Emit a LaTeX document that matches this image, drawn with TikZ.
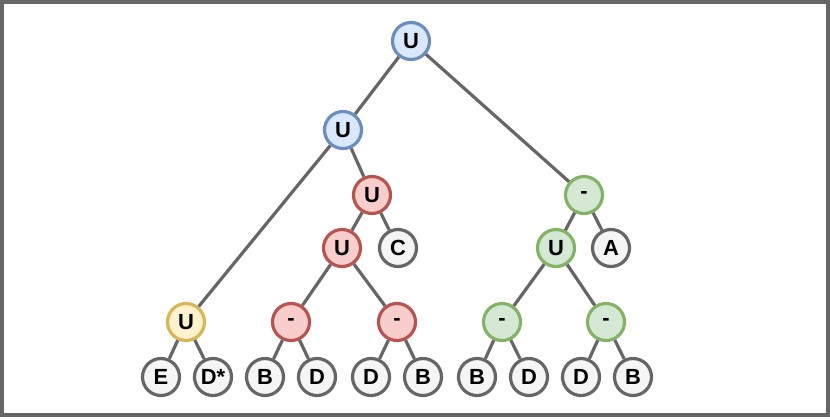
\documentclass[tikz,border=0pt]{standalone}
\usepackage{fontspec}
\setmainfont{Liberation Sans}
\usepackage{tikz}
\usetikzlibrary{positioning}

\definecolor{edgegray}{HTML}{666666}
\definecolor{leaffill}{HTML}{F5F5F5}
\definecolor{bluefill}{HTML}{DAE8FC}
\definecolor{bluedraw}{HTML}{6C8EBF}
\definecolor{redfill}{HTML}{F8CECC}
\definecolor{reddraw}{HTML}{B85450}
\definecolor{greenfill}{HTML}{D5E8D4}
\definecolor{greendraw}{HTML}{82B366}
\definecolor{yellowfill}{HTML}{FFF2CC}
\definecolor{yellowdraw}{HTML}{D6B656}

\begin{document}
\begin{tikzpicture}[x=1bp,y=-1bp,
  every node/.style={circle,draw,line width=3.2bp,minimum size=37bp,inner sep=0pt,
    font=\bfseries\fontsize{22}{22}\selectfont},
  leaf/.style={draw=edgegray,fill=leaffill},
  bluenode/.style={draw=bluedraw,fill=bluefill},
  rednode/.style={draw=reddraw,fill=redfill},
  greennode/.style={draw=greendraw,fill=greenfill},
  yellownode/.style={draw=yellowdraw,fill=yellowfill},
  link/.style={draw=edgegray,line width=3.2bp}]

    \useasboundingbox (0,0) rectangle (830,419);
    \draw[edgegray,line width=3.5bp] (2,2) rectangle (828,415);

    % blue part
    \node[bluenode](root) at (411,41){U};
    \node[bluenode](uleft) at (343,130){U};

    % red part
    \node[rednode](rtop) at (372,195){U};
    \node[rednode](rmid) at (342,248){U};
    \node[leaf](c) at (398,248){C};
    \node[rednode](rmin1) at (291,322){-};
    \node[rednode](rmin2) at (397,322){-};

    % yellow part
    \node[yellownode](yel) at (186,322){U};

    % green part
    \node[greennode](gtop) at (584,195){-};
    \node[greennode](gmid) at (556,248){U};
    \node[leaf](a) at (611,248){A};
    \node[greennode](gmin1) at (502,322){-};
    \node[greennode](gmin2) at (606,322){-};

    % leaves
    \node[leaf](e) at (161,377){E};
    \node[leaf](dstar) at (213,377){D*};
    \node[leaf](b1) at (265,377){B};
    \node[leaf](d1) at (317,377){D};
    \node[leaf](d2) at (371,377){D};
    \node[leaf](b2) at (423,377){B};
    \node[leaf](b3) at (477,377){B};
    \node[leaf](d3) at (529,377){D};
    \node[leaf](d4) at (581,377){D};
    \node[leaf](b4) at (633,377){B};

    \draw[link](root) -- (uleft);
    \draw[link](root) -- (gtop);
    \draw[link](uleft) -- (yel);
    \draw[link](uleft) -- (rtop);
    \draw[link](rtop) -- (rmid);
    \draw[link](rtop) -- (c);
    \draw[link](rmid) -- (rmin1);
    \draw[link](rmid) -- (rmin2);
    \draw[link](yel) -- (e);
    \draw[link](yel) -- (dstar);
    \draw[link](rmin1) -- (b1);
    \draw[link](rmin1) -- (d1);
    \draw[link](rmin2) -- (d2);
    \draw[link](rmin2) -- (b2);
    \draw[link](gtop) -- (gmid);
    \draw[link](gtop) -- (a);
    \draw[link](gmid) -- (gmin1);
    \draw[link](gmid) -- (gmin2);
    \draw[link](gmin1) -- (b3);
    \draw[link](gmin1) -- (d3);
    \draw[link](gmin2) -- (d4);
    \draw[link](gmin2) -- (b4);
\end{tikzpicture}
\end{document}
